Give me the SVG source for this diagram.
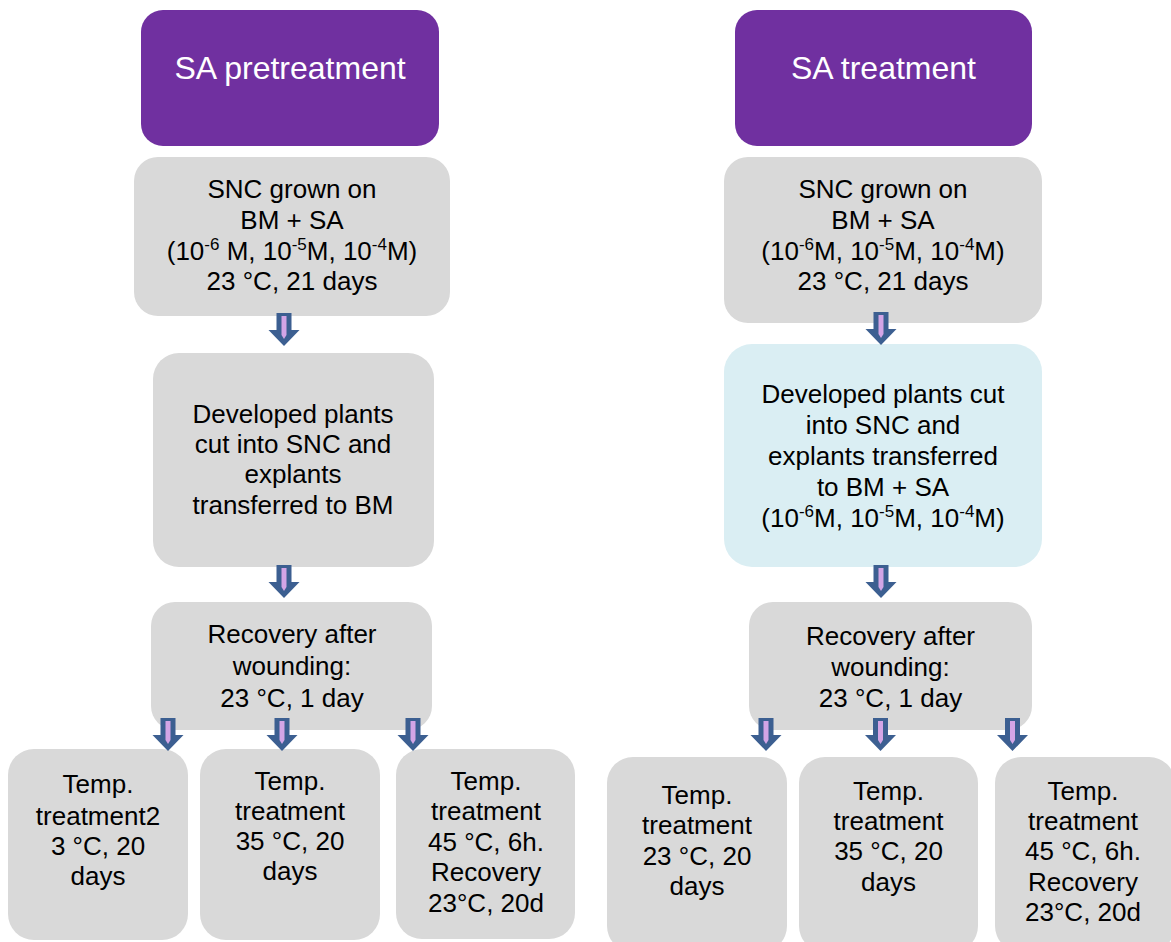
<svg xmlns="http://www.w3.org/2000/svg" width="1171" height="942" viewBox="0 0 1171 942">
<defs>
<style>
.title{fill:#7030A0;}
.gray{fill:#D9D9D9;}
.blue{fill:#DAEEF3;}
.tt{font-family:"Liberation Sans",Arial,sans-serif;font-size:32px;fill:#FFFFFF;text-anchor:middle;}
.t{font-family:"Liberation Sans",Arial,sans-serif;font-size:26px;fill:#000000;text-anchor:middle;}
.sup{font-size:17px;}
.ao{fill:#3C5F91;}
.ai{fill:#D3A5E6;}
</style>
<g id="arrow">
<polygon class="ao" points="-7.5,0 7.5,0 7.5,17 15.5,17 0,33 -15.5,17 -7.5,17"/>
<polygon class="ai" points="-2.5,3 2.5,3 2.5,22 0,26 -2.5,22"/>
</g>
</defs>
<rect width="1171" height="942" fill="#FFFFFF"/>

<g id="n-sa-pre">
<rect class="title" x="141" y="10" width="298" height="136" rx="22"/>
<text class="tt" x="290" y="79">SA pretreatment</text>
</g>
<g id="n-sa-treat">
<rect class="title" x="735" y="10" width="297" height="136" rx="22"/>
<text class="tt" x="883.5" y="79">SA treatment</text>
</g>

<g id="n-l-snc">
<rect class="gray" x="134" y="157" width="316" height="159" rx="24"/>
<text class="t" x="292" y="198">SNC grown on</text>
<text class="t" x="292" y="229">BM + SA</text>
<text class="t" x="292" y="260">(10<tspan class="sup" dy="-10">-6</tspan><tspan dy="10"> M, 10</tspan><tspan class="sup" dy="-10">-5</tspan><tspan dy="10">M, 10</tspan><tspan class="sup" dy="-10">-4</tspan><tspan dy="10">M)</tspan></text>
<text class="t" x="292" y="290">23 °C, 21 days</text>
</g>
<g id="n-r-snc">
<rect class="gray" x="724" y="157" width="318" height="166" rx="24"/>
<text class="t" x="883" y="198">SNC grown on</text>
<text class="t" x="883" y="229">BM + SA</text>
<text class="t" x="883" y="260">(10<tspan class="sup" dy="-10">-6</tspan><tspan dy="10">M, 10</tspan><tspan class="sup" dy="-10">-5</tspan><tspan dy="10">M, 10</tspan><tspan class="sup" dy="-10">-4</tspan><tspan dy="10">M)</tspan></text>
<text class="t" x="883" y="290">23 °C, 21 days</text>
</g>

<g id="n-l-dev">
<rect class="gray" x="153" y="353" width="281" height="214" rx="26"/>
<text class="t" x="293" y="423">Developed plants</text>
<text class="t" x="293" y="453">cut into SNC and</text>
<text class="t" x="293" y="483">explants</text>
<text class="t" x="293" y="514">transferred to BM</text>
</g>
<g id="n-r-dev">
<rect class="blue" x="724" y="344" width="318" height="223" rx="28"/>
<text class="t" x="883" y="403">Developed plants cut</text>
<text class="t" x="883" y="434">into SNC and</text>
<text class="t" x="883" y="465">explants transferred</text>
<text class="t" x="883" y="496">to BM + SA</text>
<text class="t" x="883" y="527">(10<tspan class="sup" dy="-10">-6</tspan><tspan dy="10">M, 10</tspan><tspan class="sup" dy="-10">-5</tspan><tspan dy="10">M, 10</tspan><tspan class="sup" dy="-10">-4</tspan><tspan dy="10">M)</tspan></text>
</g>

<g id="n-l-rec">
<rect class="gray" x="151" y="602" width="281" height="128" rx="24"/>
<text class="t" x="292" y="643">Recovery after</text>
<text class="t" x="292" y="675">wounding:</text>
<text class="t" x="292" y="707">23 °C, 1 day</text>
</g>
<g id="n-r-rec">
<rect class="gray" x="749" y="602" width="283" height="128" rx="24"/>
<text class="t" x="890.5" y="645">Recovery after</text>
<text class="t" x="890.5" y="676">wounding:</text>
<text class="t" x="890.5" y="707">23 °C, 1 day</text>
</g>

<g id="n-l-t1">
<rect class="gray" x="8" y="749" width="180" height="191" rx="26"/>
<text class="t" x="98" y="793">Temp.</text>
<text class="t" x="98" y="825">treatment2</text>
<text class="t" x="98" y="855">3 °C, 20</text>
<text class="t" x="98" y="885">days</text>
</g>
<g id="n-l-t2">
<rect class="gray" x="200" y="749" width="180" height="191" rx="26"/>
<text class="t" x="290" y="790">Temp.</text>
<text class="t" x="290" y="820">treatment</text>
<text class="t" x="290" y="850">35 °C, 20</text>
<text class="t" x="290" y="880">days</text>
</g>
<g id="n-l-t3">
<rect class="gray" x="396" y="749" width="179" height="190" rx="26"/>
<text class="t" x="486" y="790">Temp.</text>
<text class="t" x="486" y="820">treatment</text>
<text class="t" x="486" y="851">45 °C, 6h.</text>
<text class="t" x="486" y="881">Recovery</text>
<text class="t" x="486" y="912">23°C, 20d</text>
</g>

<g id="n-r-t1">
<rect class="gray" x="607" y="757" width="180" height="195" rx="26"/>
<text class="t" x="697" y="804">Temp.</text>
<text class="t" x="697" y="834">treatment</text>
<text class="t" x="697" y="865">23 °C, 20</text>
<text class="t" x="697" y="895">days</text>
</g>
<g id="n-r-t2">
<rect class="gray" x="799" y="757" width="179" height="195" rx="26"/>
<text class="t" x="888.5" y="800">Temp.</text>
<text class="t" x="888.5" y="830">treatment</text>
<text class="t" x="888.5" y="860">35 °C, 20</text>
<text class="t" x="888.5" y="891">days</text>
</g>
<g id="n-r-t3">
<rect class="gray" x="995" y="757" width="180" height="195" rx="26"/>
<text class="t" x="1083" y="800">Temp.</text>
<text class="t" x="1083" y="830">treatment</text>
<text class="t" x="1083" y="860">45 °C, 6h.</text>
<text class="t" x="1083" y="891">Recovery</text>
<text class="t" x="1083" y="921">23°C, 20d</text>
</g>

<g id="connectors">
<use href="#arrow" x="284" y="313"/>
<use href="#arrow" x="284" y="565"/>
<use href="#arrow" x="168" y="718"/>
<use href="#arrow" x="282" y="718"/>
<use href="#arrow" x="413" y="718"/>
<use href="#arrow" x="881" y="312"/>
<use href="#arrow" x="881" y="565"/>
<use href="#arrow" x="766" y="718"/>
<use href="#arrow" x="880.5" y="718"/>
<use href="#arrow" x="1012.5" y="718"/>
</g>
</svg>
